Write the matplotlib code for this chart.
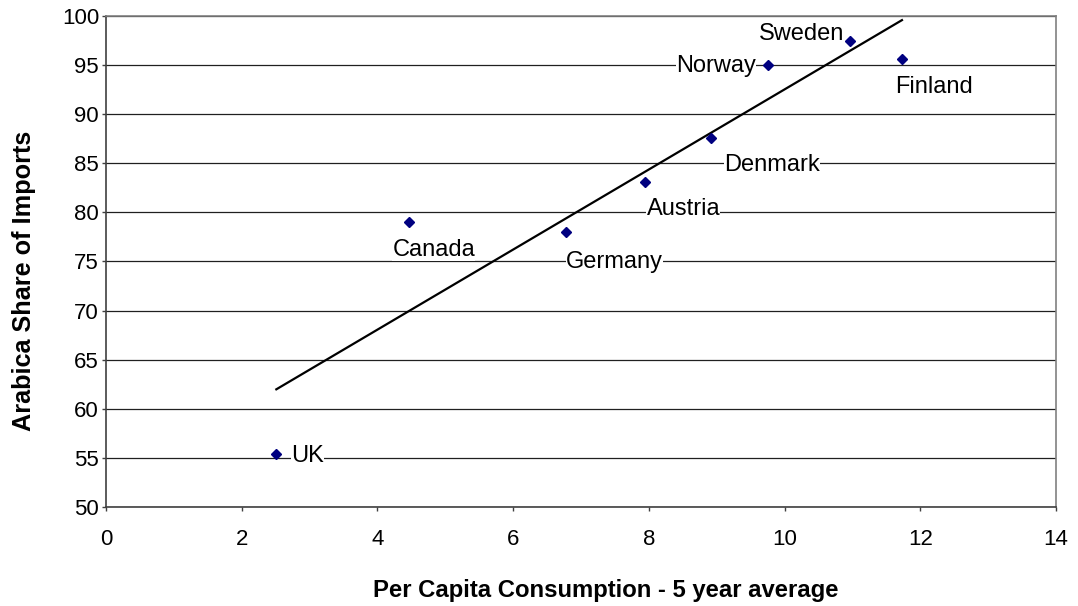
import matplotlib
matplotlib.use("Agg")
import matplotlib.pyplot as plt
import numpy as np

countries = ["UK", "Canada", "Germany", "Austria", "Denmark", "Norway", "Sweden", "Finland"]
consumption = [2.51, 4.47, 6.78, 7.95, 8.92, 9.75, 10.96, 11.73]
arabica_share = [55.35, 79.05, 78.0, 83.06, 87.6, 95.07, 97.45, 95.68]
# label offsets (pixels) and alignment
label_offsets = [(15, -2), (-17, -28), (0, -30), (1, -27), (13, -27), (-12, -1), (-5, 7), (-7, -28)]
label_ha = ["left", "left", "left", "left", "left", "right", "right", "left"]

plt.rcParams['font.family'] = ['Liberation Sans', 'DejaVu Sans']

W, H = 1078, 606
fig = plt.figure(figsize=(W/100, H/100), dpi=100)
ax = fig.add_axes([106/W, 1-506.7/H, (1056-106)/W, (506.7-16.3)/H])

ax.set_xlim(0, 14)
ax.set_ylim(50, 100)
ax.set_xticks(range(0, 15, 2))
ax.set_yticks(range(50, 101, 5))
ax.yaxis.grid(True, color='#202020', linewidth=0.9)
ax.set_axisbelow(True)

for s in ['top', 'right']:
    ax.spines[s].set_color('#808080')
    ax.spines[s].set_linewidth(1.2)
for s in ['left', 'bottom']:
    ax.spines[s].set_color('#404040')
    ax.spines[s].set_linewidth(1.2)

ax.tick_params(axis='both', direction='out', length=3, width=1, colors='#404040', labelcolor='black', labelsize=16)
ax.tick_params(axis='x', pad=13)
ax.tick_params(axis='y', pad=2)

# trend line
coef = np.polyfit(consumption, arabica_share, 1)
xl = np.array([min(consumption), max(consumption)])
ax.plot(xl, np.polyval(coef, xl), color='black', linewidth=1.6, zorder=3)

ax.plot(consumption, arabica_share, linestyle='none', marker='D', markersize=4.8,
        color='#000080', zorder=4)

for c, x, y, off, ha in zip(countries, consumption, arabica_share, label_offsets, label_ha):
    ax.annotate(c, (x, y), xytext=off, textcoords='offset pixels', ha=ha, va='center',
                fontsize=17, zorder=5,
                bbox=dict(boxstyle='square,pad=0.0', facecolor='white', edgecolor='none'))

fig.text(605.7/W, 1-590/H, 'Per Capita Consumption - 5 year average', fontsize=17.2,
         fontweight='bold', ha='center', va='center')
fig.text(24/W, 1-281/H, 'Arabica Share of Imports', fontsize=18.2, fontweight='bold',
         ha='center', va='center', rotation=90)

fig.savefig('out.png', dpi=100)
